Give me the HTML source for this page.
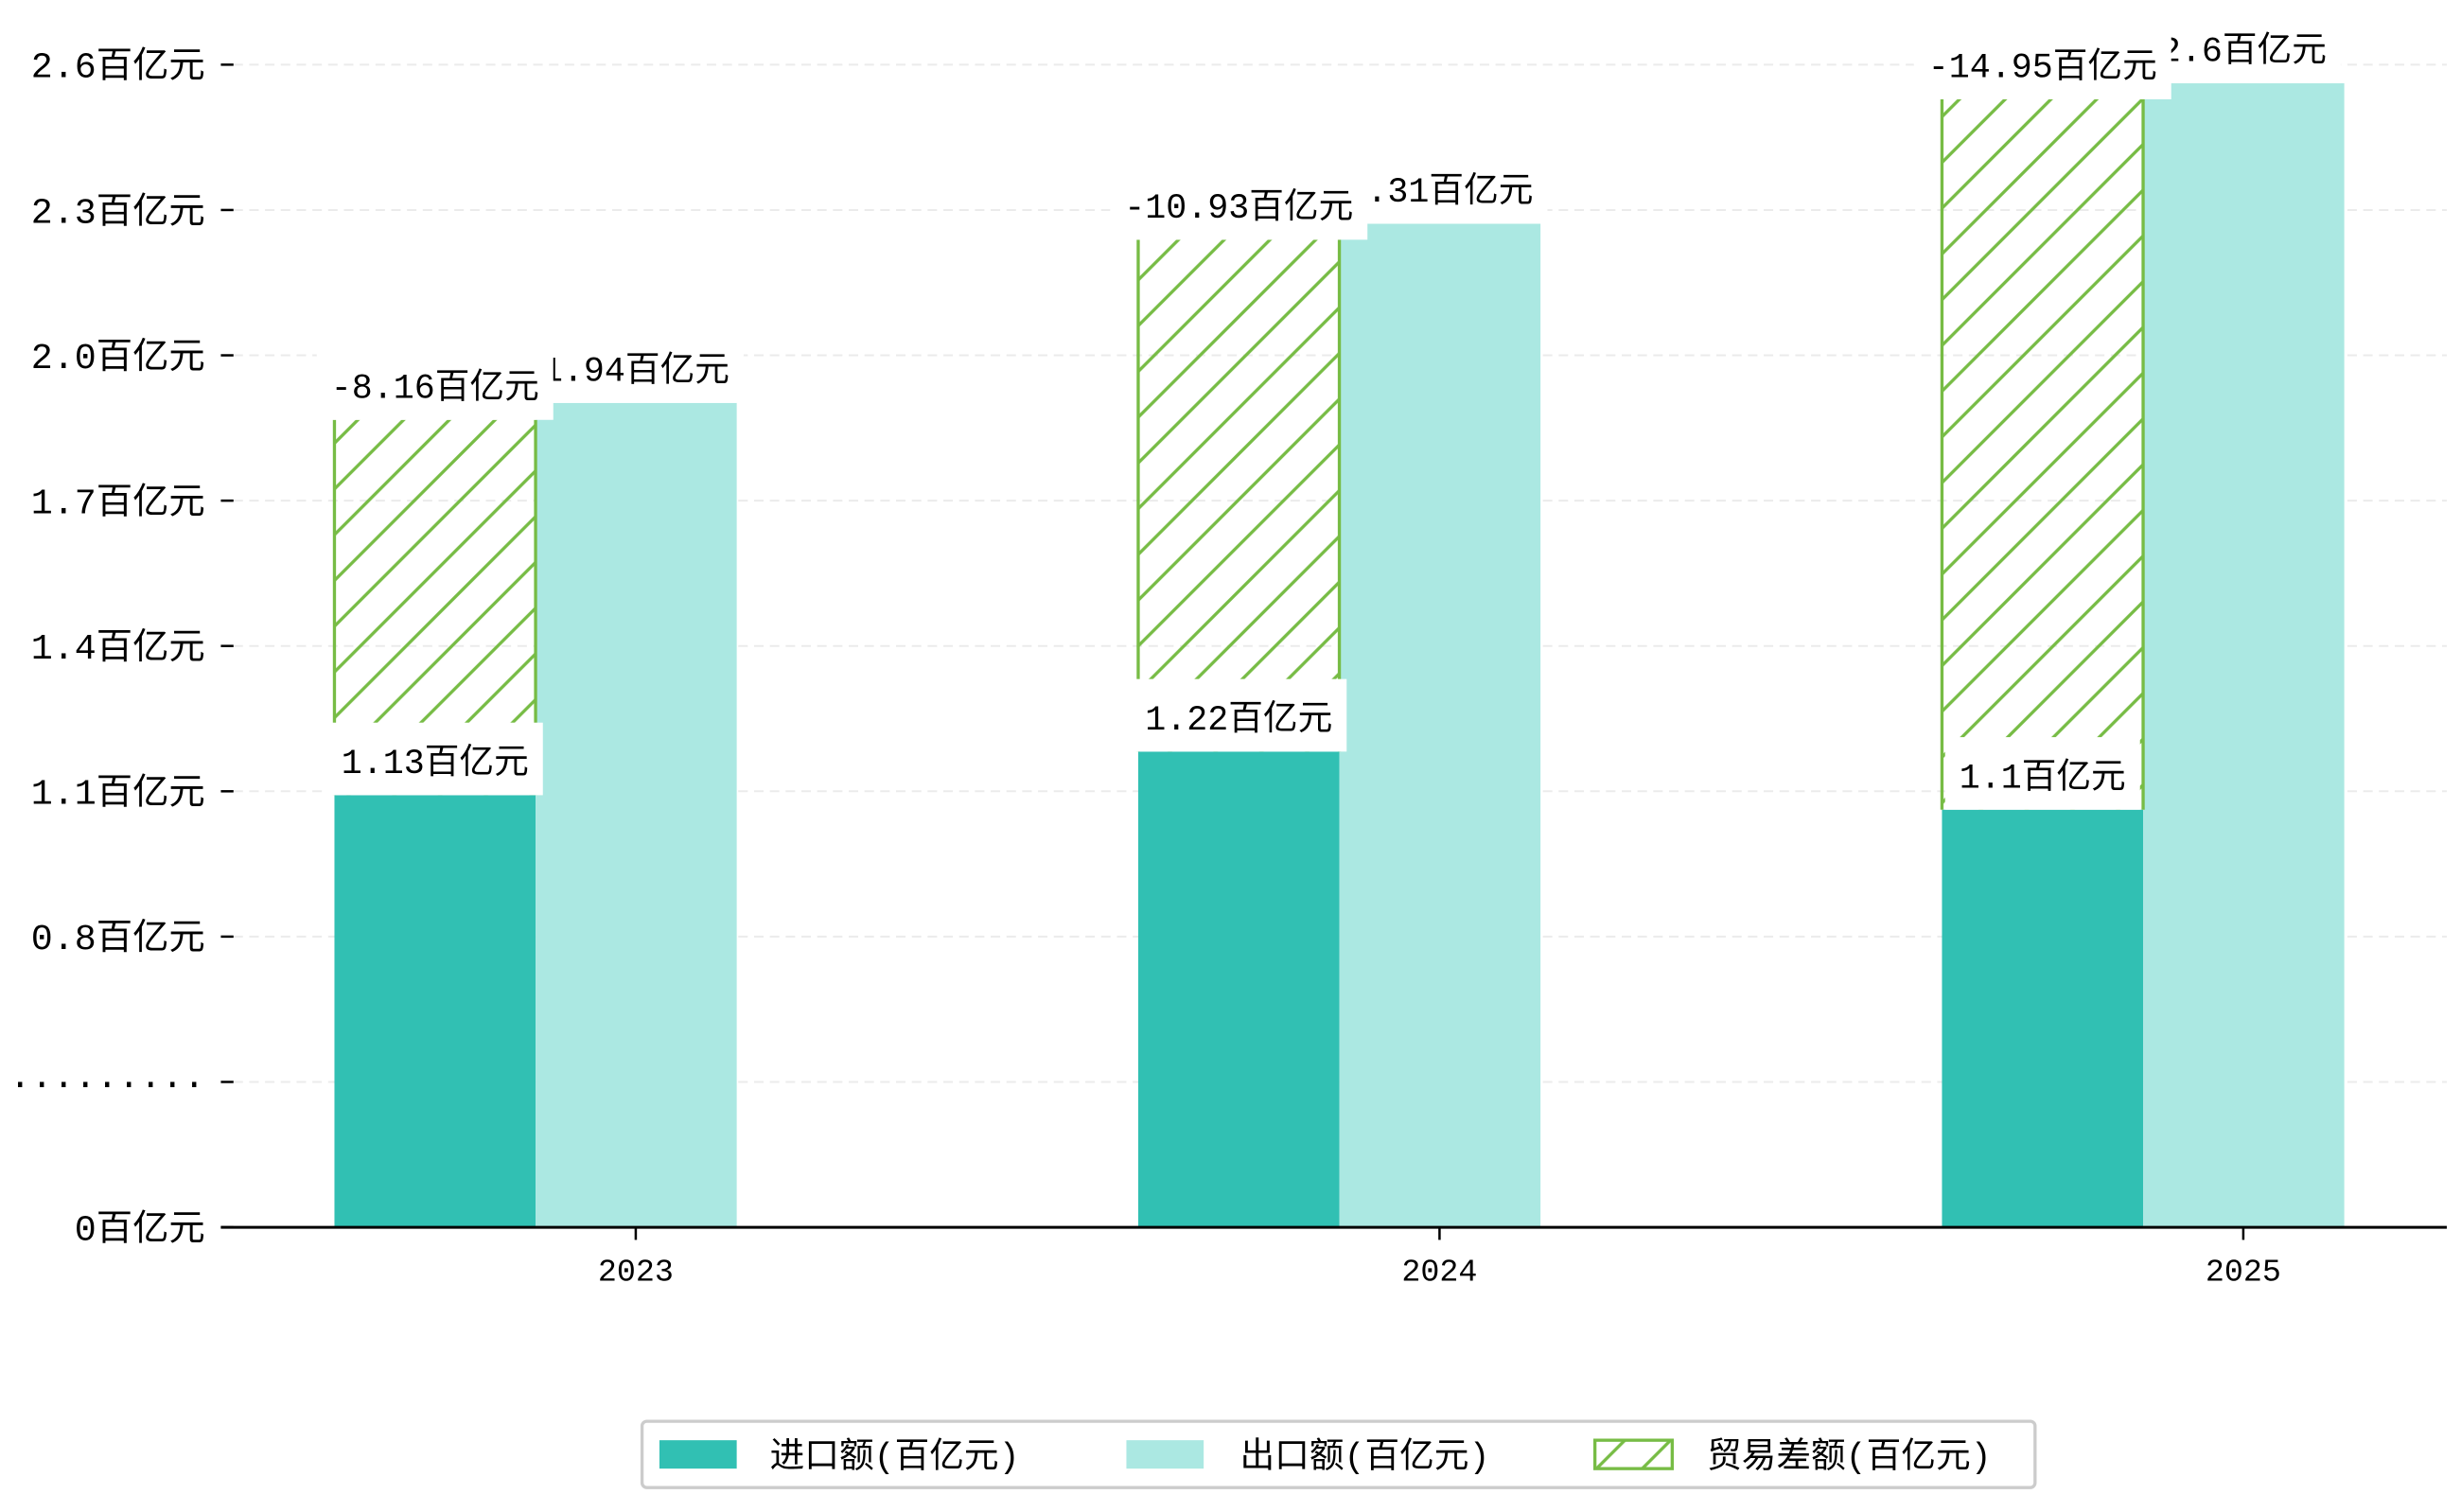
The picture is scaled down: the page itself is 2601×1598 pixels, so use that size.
<!DOCTYPE html>
<html><head><meta charset="utf-8"><style>
html,body{margin:0;padding:0;background:#fff;}
svg{display:block;}
text{font-family:"Liberation Mono","WenQuanYi Zen Hei",monospace;fill:#000;}
</style></head><body>
<svg id="chart" width="2601" height="1598" viewBox="0 0 1560 958.5" preserveAspectRatio="none" xmlns="http://www.w3.org/2000/svg">
<defs>
<pattern id="hatch" patternUnits="userSpaceOnUse" width="29" height="29">
<path d="M-2,31 L31,-2 M-31,31 L31,-31 M-2,60 L60,-2" stroke="#77bc45" stroke-width="2" fill="none"/>
</pattern>
</defs>
<g id="grid"></g>
<g id="bars"></g>
<g id="labels"></g>
<g id="axes"></g>
<g id="legend">
<rect x="407" y="901" width="883" height="42" rx="3" fill="#fff" stroke="#cccccc" stroke-width="2"/>
<rect x="418" y="913" width="49" height="18" fill="#31c0b3"/>
<text x="488" y="930" font-size="22">进口额(百亿元)</text>
<rect x="714" y="913" width="49" height="18" fill="#abe8e2"/>
<text x="786" y="930" font-size="22">出口额(百亿元)</text>
<rect x="1011" y="913" width="49" height="18" fill="url(#hatch)" stroke="#77bc45" stroke-width="2"/>
<text x="1082" y="930" font-size="22">贸易差额(百亿元)</text>
</g>
</svg>
<script>
const categories = ["2023","2024","2025"];
const importVals = [1.13,1.22,1.1];
const exportVals = [1.94,2.31,2.6];
const balanceHeights = [0.775,1.057,1.467];
const importLabels = ["1.13百亿元","1.22百亿元","1.1百亿元"];
const exportLabels = ["1.94百亿元","2.31百亿元","2.6百亿元"];
const balanceLabels = ["-8.16百亿元","-10.93百亿元","-14.95百亿元"];
const yTickLabels = ["0百亿元","·········","0.8百亿元","1.1百亿元","1.4百亿元","1.7百亿元","2.0百亿元","2.3百亿元","2.6百亿元"];

const NS="http://www.w3.org/2000/svg";
const baseY=778, plotL=140, plotR=1551;
function yScale(v){return Math.min(baseY, 851-307*v);}
function xCenter(i){return 403+509.5*i;}
function tickY(i){return baseY - i*(baseY-41)/(yTickLabels.length-1);}
const barW=127.5;
function mk(tag,attrs,parent){const e=document.createElementNS(NS,tag);for(const k in attrs)e.setAttribute(k,attrs[k]);parent.appendChild(e);return e;}
const grid=document.getElementById('grid'),bars=document.getElementById('bars'),labels=document.getElementById('labels'),axes=document.getElementById('axes');

yTickLabels.forEach((t,i)=>{
  const y=tickY(i);
  if(i>0){const g=mk('line',{x1:148,x2:plotR,y1:y,y2:y,stroke:'#ebebeb','stroke-width':1.2,'stroke-dasharray':'6,4'},grid);
  
  }
  const tk=mk('line',{x1:plotL,x2:148,y1:y,y2:y,stroke:'#000','stroke-width':1.5},axes);
  
  
  const tx=mk('text',{x:130,y:y+8,'font-size':23,'text-anchor':'end'},axes);
  tx.textContent=t;
  
  
});

function labelBox(text,cx,bottom,name){
  const g=mk('g',{},labels);
  
  
  const t=mk('text',{x:cx,y:bottom-14,'font-size':22,'text-anchor':'middle'},g);
  t.textContent=text;
  const bb=t.getBBox();
  const r=mk('rect',{x:bb.x-9,y:bottom-46,width:bb.width+18,height:46,fill:'#fff'},g);
  g.insertBefore(r,t);
}

categories.forEach((c,i)=>{
  const cx=xCenter(i), ix=cx-191, ex=ix+barW;
  const iy=yScale(importVals[i]);
  const b1=mk('rect',{x:ix,y:iy,width:barW,height:baseY-iy,fill:'#31c0b3'},bars);
  
  
  const ey=yScale(exportVals[i]);
  const b2=mk('rect',{x:ex,y:ey,width:barW,height:baseY-ey,fill:'#abe8e2'},bars);
  
  
  const hy=yScale(importVals[i]+balanceHeights[i]);
  const b3=mk('rect',{x:ix,y:hy,width:barW,height:iy-hy,fill:'url(#hatch)'},bars);
  
  
  const s1=mk('line',{x1:ix,x2:ix,y1:hy,y2:iy,stroke:'#77bc45','stroke-width':2},bars);
  
  
  const s2=mk('line',{x1:ix+barW,x2:ix+barW,y1:hy,y2:iy,stroke:'#77bc45','stroke-width':2},bars);
  
  
  const xl=mk('text',{x:cx,y:812,'font-size':20,'text-anchor':'middle'},axes);
  xl.textContent=c;
  
  
  const xt=mk('line',{x1:cx,x2:cx,y1:baseY,y2:786,stroke:'#000','stroke-width':1.5},axes);
  
  
});
categories.forEach((c,i)=>{
  labelBox(exportLabels[i],xCenter(i),yScale(exportVals[i]),'export-label-'+c);
});
categories.forEach((c,i)=>{
  const ix=xCenter(i)-191;
  labelBox(balanceLabels[i],ix+barW/2,yScale(importVals[i]+balanceHeights[i]),'balance-label-'+c);
  labelBox(importLabels[i],ix+barW/2,yScale(importVals[i]),'import-label-'+c);
});
const ax=mk('line',{x1:plotL,x2:plotR,y1:baseY,y2:baseY,stroke:'#000','stroke-width':1.8},axes);


</script>
</body></html>
